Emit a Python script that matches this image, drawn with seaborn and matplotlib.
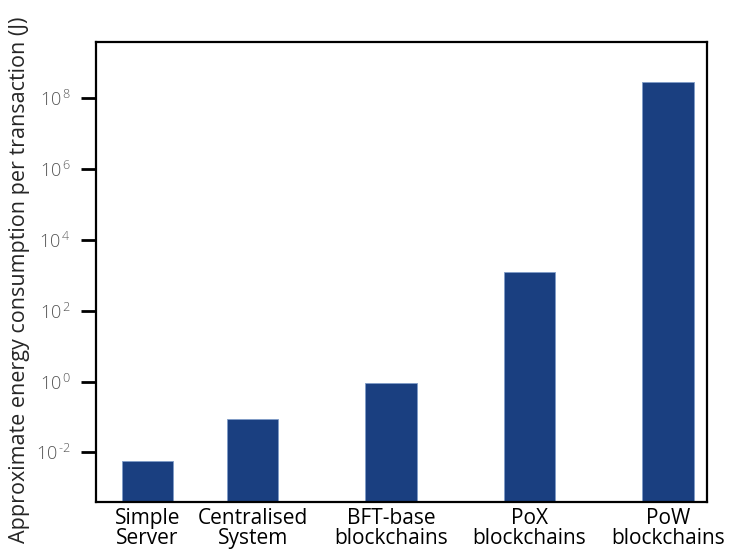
import numpy as np
import pandas as pd
import matplotlib
matplotlib.use("Agg")
import matplotlib.pyplot as plt
import matplotlib.ticker as mticker
import seaborn as sns

# Energy per transaction (log scale)
systems = ["Simple\nServer", "Centralised\nSystem", "BFT-base\nblockchains",
           "PoX\nblockchains", "PoW\nblockchains"]
energy_j = [5.5e-3, 8.5e-2, 9.0e-1, 1.2e3, 2.9e8]
ytick_exponents = [-2, 0, 2, 4, 6, 8]


def make_plot():
    sns.set_style("white")
    plt.rcParams["font.family"] = ["Open Sans", "DejaVu Sans"]
    plt.rcParams["mathtext.fontset"] = "custom"
    plt.rcParams["mathtext.rm"] = "Open Sans:light"
    plt.rcParams["mathtext.it"] = "Open Sans:light"

    # the first gap in the original is narrower than the others
    xpos = [0, 0.76, 1.76, 2.76, 3.76]
    df = pd.DataFrame({"x": xpos, "energy": energy_j})

    fig = plt.figure(figsize=(7.3, 5.49), dpi=100)
    ax = fig.add_axes([0.1315, 0.0865, 0.8365, 0.837])
    ax.set_yscale("log")

    sns.barplot(data=df, x="x", y="energy", native_scale=True, width=0.49,
                color="#1a3f80", saturation=1, edgecolor="#7f9cc8",
                linewidth=0.6, errorbar=None, ax=ax)

    ax.set_xlim(-0.372, 4.04)
    ax.set_ylim(10 ** -3.39, 10 ** 9.59)

    ax.set_xticks(xpos)
    ax.set_xticklabels(systems, fontsize=15, linespacing=0.92, color="black")
    ax.tick_params(axis="x", length=0, pad=5)

    ax.yaxis.set_major_locator(mticker.FixedLocator([10.0 ** e for e in ytick_exponents]))
    ax.yaxis.set_minor_locator(mticker.NullLocator())
    # plain hyphen for the negative exponent, like the original
    ax.set_yticklabels([r"$10^{\,\text{%d}}$" % e for e in ytick_exponents],
                       fontsize=13, color="#555555")
    ax.tick_params(axis="y", length=11, width=2, color="black", pad=7, left=True)

    ax.set_xlabel("")
    ax.set_ylabel("Approximate energy consumption per transaction (J)",
                  fontsize=15.5)
    ax.yaxis.set_label_coords(-0.108, 0.483)

    for sp in ax.spines.values():
        sp.set_linewidth(1.6)
        sp.set_color("black")

    fig.savefig("out.png", dpi=100)


if __name__ == "__main__":
    make_plot()
